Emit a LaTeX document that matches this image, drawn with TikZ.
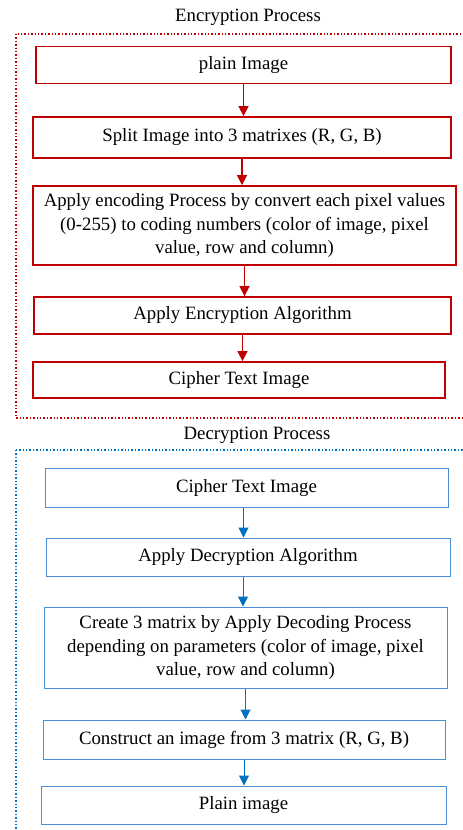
\documentclass[tikz,border=0pt]{standalone}
\usepackage{fontspec}
\setmainfont{Liberation Serif}
\usepackage{xcolor}
\usetikzlibrary{arrows.meta,positioning}
\definecolor{encred}{HTML}{C00000}
\definecolor{decblue}{HTML}{0070C0}
\definecolor{boxblue}{HTML}{4A8FD4}

\begin{document}
\begin{tikzpicture}[x=1pt,y=-1pt,
    font=\fontsize{18.8}{23.3}\selectfont,
    encbox/.style={draw=encred, line width=1.8pt, align=center, inner sep=2pt},
    decbox/.style={draw=boxblue, line width=1pt, align=center, inner sep=2pt},
    encarrow/.style={draw=encred, line width=1.5pt, -{Triangle[width=10pt,length=10pt]}},
    decarrow/.style={draw=decblue, line width=1pt, -{Triangle[width=10pt,length=10pt]}}]
    \useasboundingbox (0,0) rectangle (463,830);
    \clip (0,0) rectangle (463,830);

    % encryption part
    \node (enctitle) at (248,17) {Encryption Process};
    \draw[encred, line width=1.4pt, dotted] (16,34) rectangle (475,418);
    \node[encbox, minimum width=415pt, minimum height=37pt] (eplain) at (243.5,65) {plain Image};
    \node[encbox, minimum width=418pt, minimum height=41pt] (esplit) at (242,137.5) {Split Image into 3 matrixes (R, G, B)};
    \node[encbox, minimum width=423pt, minimum height=79pt] (eencode) at (244.5,225.5)
        {Apply encoding Process by convert each pixel values\\(0-255) to coding numbers (color of image, pixel\\value, row and column)};
    \node[encbox, minimum width=417pt, minimum height=37pt] (ealgo) at (242.5,315.5) {Apply Encryption Algorithm};
    \node[encbox, minimum width=412pt, minimum height=36pt, text depth=0pt, text height=9pt] (ecipher) at (239,380) {Cipher Text Image};
    \draw[encarrow] (eplain.south) -- (eplain.south |- esplit.north);
    \draw[encarrow] (esplit.south) -- (esplit.south |- eencode.north);
    \draw[encarrow] (eencode.south) -- (eencode.south |- ealgo.north);
    \draw[encarrow] (ealgo.south) -- (ealgo.south |- ecipher.north);

    % decryption part
    \node (dectitle) at (257,435) {Decryption Process};
    \draw[decblue, line width=1.4pt, dotted] (16,450) rectangle (475,845);
    \node[decbox, minimum width=403pt, minimum height=39pt] (dcipher) at (246.5,487.5) {Cipher Text Image};
    \node[decbox, minimum width=404pt, minimum height=38pt] (dalgo) at (248,557) {Apply Decryption Algorithm};
    \node[decbox, minimum width=403pt, minimum height=81pt] (dcreate) at (245.5,647.5)
        {Create 3 matrix by Apply Decoding Process\\depending on parameters (color of image, pixel\\value, row and column)};
    \node[decbox, minimum width=402pt, minimum height=39pt] (dbuild) at (244,739.5) {Construct an image from 3 matrix (R, G, B)};
    \node[decbox, minimum width=405pt, minimum height=38pt] (dplain) at (243.5,805) {Plain image};
    \draw[decarrow] (dcipher.south) ++(-3,0) coordinate (d1) -- (d1 |- dalgo.north);
    \draw[decarrow] (dalgo.south) ++(-5,0) coordinate (d2) -- (d2 |- dcreate.north);
    \draw[decarrow] (dcreate.south) -- (dcreate.south |- dbuild.north);
    \draw[decarrow] (dbuild.south) -- (dbuild.south |- dplain.north);
\end{tikzpicture}
\end{document}
